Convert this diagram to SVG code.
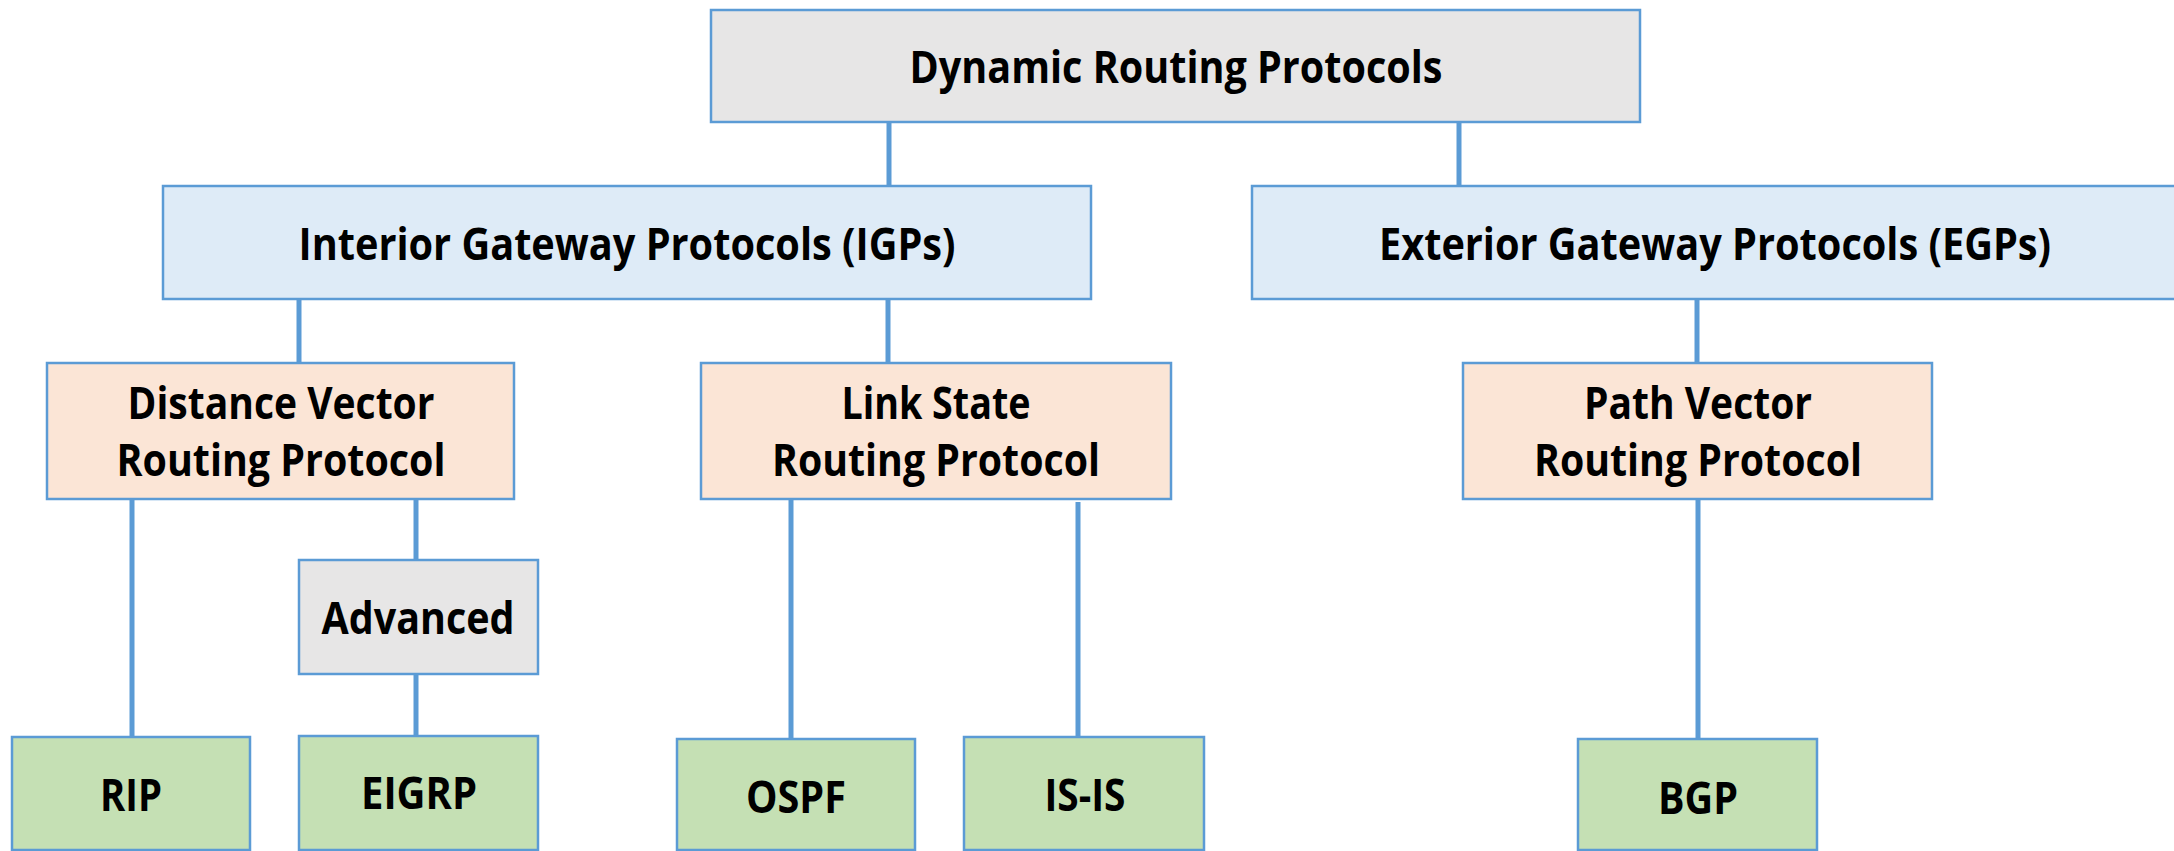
<svg xmlns="http://www.w3.org/2000/svg" width="2174" height="851" viewBox="0 0 2174 851">
  <style>
    .box { stroke: #5b9bd5; stroke-width: 2.5; }
    .gray { fill: #e7e6e6; }
    .blue { fill: #deebf7; }
    .peach { fill: #fbe5d6; }
    .green { fill: #c5e0b4; }
    .lbl { font-family: "Open Sans", Lato, "Liberation Sans", sans-serif; font-weight: bold; font-size: 44px; fill: #000; text-anchor: middle; }
    .wire { stroke: #5b9bd5; stroke-width: 5; fill: none; }
  </style>

  <!-- tree connectors -->
  <g id="connectors">
    <line class="wire" x1="889" y1="122" x2="889" y2="186"/>
    <line class="wire" x1="1459" y1="122" x2="1459" y2="186"/>
    <line class="wire" x1="299" y1="299" x2="299" y2="363"/>
    <line class="wire" x1="888" y1="299" x2="888" y2="363"/>
    <line class="wire" x1="1697" y1="299" x2="1697" y2="363"/>
    <line class="wire" x1="132" y1="499" x2="132" y2="737"/>
    <line class="wire" x1="416" y1="499" x2="416" y2="560"/>
    <line class="wire" x1="416" y1="674" x2="416" y2="736"/>
    <line class="wire" x1="791" y1="499" x2="791" y2="739"/>
    <line class="wire" x1="1078" y1="502" x2="1078" y2="737"/>
    <line class="wire" x1="1698" y1="499" x2="1698" y2="739"/>
  </g>

  <g id="dynamic">
    <rect class="box gray" x="711" y="10" width="929" height="112"/>
    <text class="lbl" x="1176" y="83" textLength="533" lengthAdjust="spacingAndGlyphs">Dynamic Routing Protocols</text>
  </g>

  <g id="igp">
    <rect class="box blue" x="163" y="186" width="928" height="113"/>
    <text class="lbl" x="627" y="260" textLength="657" lengthAdjust="spacingAndGlyphs">Interior Gateway Protocols (IGPs)</text>
  </g>

  <g id="egp">
    <rect class="box blue" x="1252" y="186" width="930" height="113"/>
    <text class="lbl" x="1715" y="260" textLength="672" lengthAdjust="spacingAndGlyphs">Exterior Gateway Protocols (EGPs)</text>
  </g>

  <g id="distance-vector">
    <rect class="box peach" x="47" y="363" width="467" height="136"/>
    <text class="lbl" x="281" y="419" textLength="307" lengthAdjust="spacingAndGlyphs">Distance Vector</text>
    <text class="lbl" x="281" y="476" textLength="329" lengthAdjust="spacingAndGlyphs">Routing Protocol</text>
  </g>

  <g id="link-state">
    <rect class="box peach" x="701" y="363" width="470" height="136"/>
    <text class="lbl" x="936" y="419" textLength="189" lengthAdjust="spacingAndGlyphs">Link State</text>
    <text class="lbl" x="936" y="476" textLength="328" lengthAdjust="spacingAndGlyphs">Routing Protocol</text>
  </g>

  <g id="path-vector">
    <rect class="box peach" x="1463" y="363" width="469" height="136"/>
    <text class="lbl" x="1698" y="419" textLength="228" lengthAdjust="spacingAndGlyphs">Path Vector</text>
    <text class="lbl" x="1698" y="476" textLength="328" lengthAdjust="spacingAndGlyphs">Routing Protocol</text>
  </g>

  <g id="advanced">
    <rect class="box gray" x="299" y="560" width="239" height="114"/>
    <text class="lbl" x="418" y="634" textLength="193" lengthAdjust="spacingAndGlyphs">Advanced</text>
  </g>

  <g id="rip">
    <rect class="box green" x="12" y="737" width="238" height="113"/>
    <text class="lbl" x="131" y="811" textLength="62" lengthAdjust="spacingAndGlyphs">RIP</text>
  </g>

  <g id="eigrp">
    <rect class="box green" x="299" y="736" width="239" height="114"/>
    <text class="lbl" x="419" y="809" textLength="116" lengthAdjust="spacingAndGlyphs">EIGRP</text>
  </g>

  <g id="ospf">
    <rect class="box green" x="677" y="739" width="238" height="111"/>
    <text class="lbl" x="796" y="813" textLength="100" lengthAdjust="spacingAndGlyphs">OSPF</text>
  </g>

  <g id="is-is">
    <rect class="box green" x="964" y="737" width="240" height="113"/>
    <text class="lbl" x="1085" y="811" textLength="81" lengthAdjust="spacingAndGlyphs">IS-IS</text>
  </g>

  <g id="bgp">
    <rect class="box green" x="1578" y="739" width="239" height="111"/>
    <text class="lbl" x="1698" y="814" textLength="80" lengthAdjust="spacingAndGlyphs">BGP</text>
  </g>
</svg>
